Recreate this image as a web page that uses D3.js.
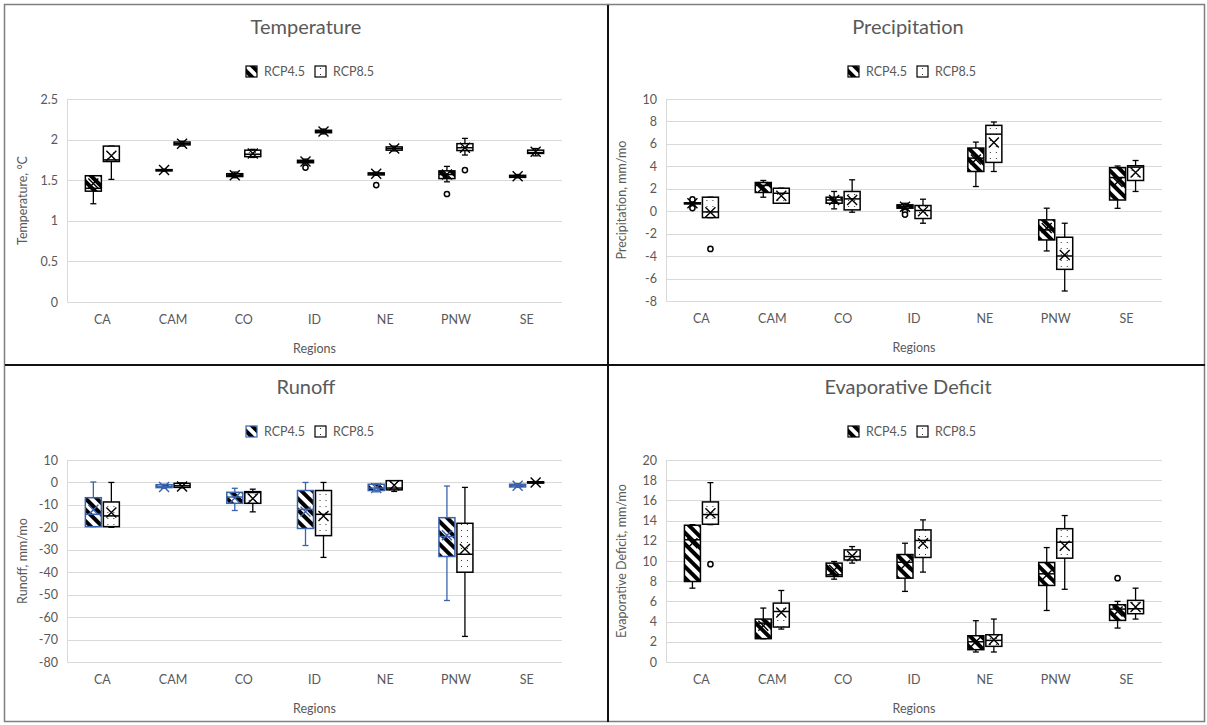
<!DOCTYPE html>
<html>
<head>
<meta charset="utf-8">
<script src="https://cdn.jsdelivr.net/npm/d3@7"></script>
<style>
  body { margin: 0; background: #fff; }
  text { font-family: Lato, "Open Sans", sans-serif; fill: #595959; }
</style>
</head>
<body>
<svg id="chart" width="1207" height="725"></svg>
<script>
var regions = ["CA", "CAM", "CO", "ID", "NE", "PNW", "SE"];
var seriesNames = ["RCP4.5", "RCP8.5"];

// each row: [min, q1, median, q3, max, mean]
var temp45 = [
  [1.21, 1.365, 1.40, 1.555, 1.555, 1.46],
  [1.61, 1.615, 1.62, 1.63, 1.635, 1.625],
  [1.53, 1.545, 1.56, 1.58, 1.60, 1.56],
  [1.70, 1.715, 1.73, 1.745, 1.76, 1.73],
  [1.56, 1.565, 1.58, 1.59, 1.60, 1.58],
  [1.48, 1.52, 1.57, 1.615, 1.67, 1.57],
  [1.53, 1.535, 1.55, 1.56, 1.57, 1.55]
];
var temp85 = [
  [1.51, 1.73, 1.75, 1.92, 1.92, 1.80],
  [1.92, 1.935, 1.95, 1.97, 1.98, 1.95],
  [1.78, 1.79, 1.82, 1.87, 1.88, 1.83],
  [2.07, 2.085, 2.10, 2.115, 2.13, 2.10],
  [1.86, 1.87, 1.89, 1.91, 1.92, 1.89],
  [1.81, 1.865, 1.90, 1.95, 2.015, 1.90],
  [1.80, 1.83, 1.84, 1.87, 1.89, 1.85]
];
var tempOut45 = [[], [], [], [1.655], [1.44], [1.33], []];
var tempOut85 = [[], [], [], [], [], [1.625], []];

var precip45 = [
  [0.55, 0.65, 0.70, 0.75, 0.85, 0.70],
  [1.25, 1.67, 2.30, 2.56, 2.74, 2.15],
  [0.21, 0.71, 1.00, 1.25, 1.76, 1.00],
  [0.15, 0.27, 0.40, 0.57, 0.71, 0.40],
  [2.20, 3.54, 4.73, 5.63, 6.16, 4.60],
  [-3.54, -2.56, -1.67, -0.77, 0.27, -1.50],
  [0.26, 1.00, 3.00, 3.88, 4.03, 2.60]
];
var precip85 = [
  [-0.57, -0.57, -0.06, 1.25, 1.25, -0.09],
  [0.71, 0.71, 1.60, 2.05, 2.05, 1.37],
  [-0.09, 0.12, 1.10, 1.76, 2.80, 1.00],
  [-1.07, -0.65, 0.06, 0.51, 1.07, 0.00],
  [3.54, 4.35, 6.87, 7.65, 7.95, 6.13],
  [-7.11, -5.18, -3.99, -2.32, -1.07, -3.90],
  [1.76, 2.74, 3.93, 4.05, 4.52, 3.45]
];
var precipOut45 = [[1.05, 0.28], [], [], [-0.05, -0.30], [], [], []];
var precipOut85 = [[-3.36], [], [], [], [], [], []];

var runoff45 = [
  [-19.7, -19.7, -14.2, -6.8, 0.2, -12.2],
  [-2.6, -2.3, -1.8, -1.0, -0.8, -2.0],
  [-12.5, -9.3, -6.5, -4.4, -2.6, -6.9],
  [-28.1, -20.5, -12.0, -3.6, 0.0, -13.0],
  [-4.2, -3.6, -2.5, -0.8, -0.6, -2.5],
  [-52.6, -33.0, -24.1, -15.7, -1.6, -23.5],
  [-2.2, -2.0, -1.4, -0.8, -0.5, -1.5]
];
var runoff85 = [
  [-20.0, -19.7, -14.9, -8.7, 0.0, -13.4],
  [-2.4, -2.2, -1.5, -0.4, -0.2, -1.8],
  [-13.1, -9.3, -4.5, -4.1, -3.0, -7.2],
  [-33.4, -23.7, -14.2, -3.6, 0.0, -14.9],
  [-4.0, -3.3, -2.5, 0.8, 0.8, -1.3],
  [-68.6, -40.0, -32.0, -18.2, -2.2, -29.7],
  [-0.4, -0.3, 0.0, 0.3, 0.4, 0.0]
];

var evap45 = [
  [7.31, 7.97, 12.1, 13.54, 13.6, 11.76],
  [2.31, 2.31, 3.85, 4.25, 5.34, 3.6],
  [8.2, 8.47, 8.63, 9.79, 9.95, 9.1],
  [6.99, 8.3, 9.88, 10.64, 11.76, 9.6],
  [0.99, 1.22, 2.0, 2.6, 4.09, 2.0],
  [5.1, 7.58, 8.73, 9.85, 11.33, 8.6],
  [3.36, 4.12, 5.24, 5.67, 6.0, 5.0]
];
var evap85 = [
  [13.6, 13.64, 14.6, 15.85, 17.76, 14.73],
  [3.26, 3.46, 5.0, 5.83, 7.08, 4.9],
  [9.79, 10.1, 10.44, 11.1, 11.43, 10.5],
  [8.9, 10.35, 12.03, 13.08, 14.07, 11.76],
  [0.99, 1.55, 2.14, 2.7, 4.25, 2.2],
  [7.2, 10.28, 11.86, 13.2, 14.5, 11.5],
  [4.25, 4.78, 5.27, 6.1, 7.31, 5.45]
];
var evapOut45 = [[], [], [], [], [], [], [8.3]];
var evapOut85 = [[9.69], [], [], [], [], [], []];

var tempTicks = [0, 0.5, 1, 1.5, 2, 2.5];
var precipTicks = [-8, -6, -4, -2, 0, 2, 4, 6, 8, 10];
var runoffTicks = [-80, -70, -60, -50, -40, -30, -20, -10, 0, 10];
var evapTicks = [0, 2, 4, 6, 8, 10, 12, 14, 16, 18, 20];

var svg = d3.select("#chart");
var defs = svg.append("defs");

// diagonal hatch for RCP4.5
var hatch = defs.append("pattern")
  .attr("id", "hatch")
  .attr("patternUnits", "userSpaceOnUse")
  .attr("width", 8).attr("height", 8)
  .attr("patternTransform", "rotate(-45)");
hatch.append("rect").attr("width", 8).attr("height", 8).attr("fill", "#fff");
hatch.append("rect").attr("width", 4).attr("height", 8).attr("fill", "#000");

// sparse dots for RCP8.5
var dots = defs.append("pattern")
  .attr("id", "dots")
  .attr("patternUnits", "userSpaceOnUse")
  .attr("width", 6).attr("height", 6);
dots.append("rect").attr("width", 6).attr("height", 6).attr("fill", "#fff");
dots.append("rect").attr("x", 2).attr("y", 2).attr("width", 1).attr("height", 1).attr("fill", "#333");

// frame
svg.append("rect")
  .attr("x", 4.5).attr("y", 4.5).attr("width", 1200).attr("height", 717)
  .attr("fill", "none").attr("stroke", "#7f7f7f").attr("stroke-width", 1.5);
svg.append("line").attr("x1", 608).attr("x2", 608).attr("y1", 5).attr("y2", 722)
  .attr("stroke", "#111").attr("stroke-width", 2);
svg.append("line").attr("x1", 5).attr("x2", 1205).attr("y1", 365).attr("y2", 365)
  .attr("stroke", "#111").attr("stroke-width", 2);

chart({
  title: "Temperature", yLabel: "Temperature, \u00b0C",
  cx: 306, top: 5, left: 67, right: 562, plotTop: 99, plotBottom: 302,
  domain: [0, 2.5], ticks: tempTicks, color45: "#000",
  d45: temp45, d85: temp85, o45: tempOut45, o85: tempOut85
});
chart({
  title: "Precipitation", yLabel: "Precipitation, mm/mo",
  cx: 908, top: 5, left: 666, right: 1162, plotTop: 99, plotBottom: 301,
  domain: [-8, 10], ticks: precipTicks, color45: "#000",
  d45: precip45, d85: precip85, o45: precipOut45, o85: precipOut85
});
chart({
  title: "Runoff", yLabel: "Runoff, mm/mo",
  cx: 306, top: 365, left: 67, right: 562, plotTop: 460, plotBottom: 662,
  domain: [-80, 10], ticks: runoffTicks, color45: "#3a63ad",
  d45: runoff45, d85: runoff85, o45: [[], [], [], [], [], [], []], o85: [[], [], [], [], [], [], []]
});
chart({
  title: "Evaporative Deficit", yLabel: "Evaporative Deficit, mm/mo",
  cx: 908, top: 365, left: 666, right: 1162, plotTop: 460, plotBottom: 662,
  domain: [0, 20], ticks: evapTicks, color45: "#000",
  d45: evap45, d85: evap85, o45: evapOut45, o85: evapOut85
});

function chart(p) {
  var g = svg.append("g");

  var x = d3.scaleBand().domain(regions).range([p.left, p.right]);
  var y = d3.scaleLinear().domain(p.domain).range([p.plotBottom, p.plotTop]);

  // title
  g.append("text")
    .attr("x", p.cx).attr("y", p.top + 29)
    .attr("text-anchor", "middle")
    .style("font-size", "20px")
    .text(p.title);

  // legend
  var leg = g.append("g").attr("transform", "translate(" + p.cx + "," + (p.top + 61) + ")");
  [["url(#hatch)", p.color45, -60], ["url(#dots)", "#000", 9]].forEach(function (l, i) {
    leg.append("rect")
      .attr("x", l[2]).attr("y", 0).attr("width", 11).attr("height", 11)
      .attr("fill", l[0]).attr("stroke", l[1]).attr("stroke-width", 1.2);
    leg.append("text")
      .attr("x", l[2] + 18).attr("y", 10)
      .style("font-size", "12.5px")
      .text(seriesNames[i]);
  });

  // grid
  g.append("g").selectAll("line").data(p.ticks).enter().append("line")
    .attr("x1", p.left).attr("x2", p.right)
    .attr("y1", function (d) { return Math.round(y(d)) + 0.5; })
    .attr("y2", function (d) { return Math.round(y(d)) + 0.5; })
    .attr("stroke", "#d9d9d9").attr("stroke-width", 1);
  g.append("line")
    .attr("x1", p.left + 0.5).attr("x2", p.left + 0.5)
    .attr("y1", p.plotTop).attr("y2", p.plotBottom)
    .attr("stroke", "#d9d9d9");

  // y axis labels
  var yAxis = d3.axisLeft(y).tickValues(p.ticks).tickSize(0).tickPadding(9)
    .tickFormat(function (d) { return String(d); });
  var ya = g.append("g").attr("transform", "translate(" + p.left + ",0)").call(yAxis);
  ya.select(".domain").remove();
  ya.selectAll("text").style("font-size", "12.5px").attr("fill", "#595959");

  // x axis labels
  var xAxis = d3.axisBottom(x).tickSize(0).tickPadding(13);
  var xa = g.append("g").attr("transform", "translate(0," + p.plotBottom + ")").call(xAxis);
  xa.select(".domain").remove();
  xa.selectAll("text").style("font-size", "12.5px").attr("fill", "#595959");

  g.append("text")
    .attr("x", (p.left + p.right) / 2).attr("y", p.plotBottom + 51)
    .attr("text-anchor", "middle")
    .style("font-size", "12.5px")
    .text("Regions");

  g.append("text")
    .attr("transform", "translate(" + (p.left - 40) + "," + ((p.plotTop + p.plotBottom) / 2) + ") rotate(-90)")
    .attr("text-anchor", "middle")
    .style("font-size", "12.5px")
    .text(p.yLabel);

  // boxes
  var sets = [
    { data: p.d45, out: p.o45, off: -9, fill: "url(#hatch)", color: p.color45 },
    { data: p.d85, out: p.o85, off: 9, fill: "url(#dots)", color: "#000" }
  ];
  var bw = 16;
  sets.forEach(function (s) {
    var bx = g.append("g").selectAll("g").data(s.data).enter().append("g")
      .attr("transform", function (d, i) {
        return "translate(" + (x(regions[i]) + x.bandwidth() / 2 + s.off) + ",0)";
      });
    // whiskers
    bx.append("line")
      .attr("y1", function (d) { return y(d[0]); }).attr("y2", function (d) { return y(d[4]); })
      .attr("stroke", s.color).attr("stroke-width", 1.3);
    [0, 4].forEach(function (k) {
      bx.append("line")
        .attr("x1", -3).attr("x2", 3)
        .attr("y1", function (d) { return y(d[k]); }).attr("y2", function (d) { return y(d[k]); })
        .attr("stroke", s.color).attr("stroke-width", 1.3);
    });
    bx.append("rect")
      .attr("x", -bw / 2).attr("width", bw)
      .attr("y", function (d) { return y(d[3]); })
      .attr("height", function (d) { return Math.max(y(d[1]) - y(d[3]), 1); })
      .attr("fill", s.fill).attr("stroke", s.color).attr("stroke-width", 1.5);
    bx.append("line")
      .attr("x1", -bw / 2).attr("x2", bw / 2)
      .attr("y1", function (d) { return y(d[2]); }).attr("y2", function (d) { return y(d[2]); })
      .attr("stroke", s.color).attr("stroke-width", 1.5);
    // mean marker
    bx.append("path")
      .attr("d", function (d) {
        var m = y(d[5]);
        return "M-5," + (m - 5) + "L5," + (m + 5) + "M-5," + (m + 5) + "L5," + (m - 5);
      })
      .attr("stroke", s.color).attr("stroke-width", 1.4).attr("fill", "none");
    // outliers
    bx.each(function (d, i) {
      d3.select(this).selectAll("circle").data(s.out[i]).enter().append("circle")
        .attr("cy", function (v) { return y(v); })
        .attr("r", 2.6)
        .attr("fill", "#fff").attr("stroke", s.color).attr("stroke-width", 1.5);
    });
  });
}
</script>
</body>
</html>
